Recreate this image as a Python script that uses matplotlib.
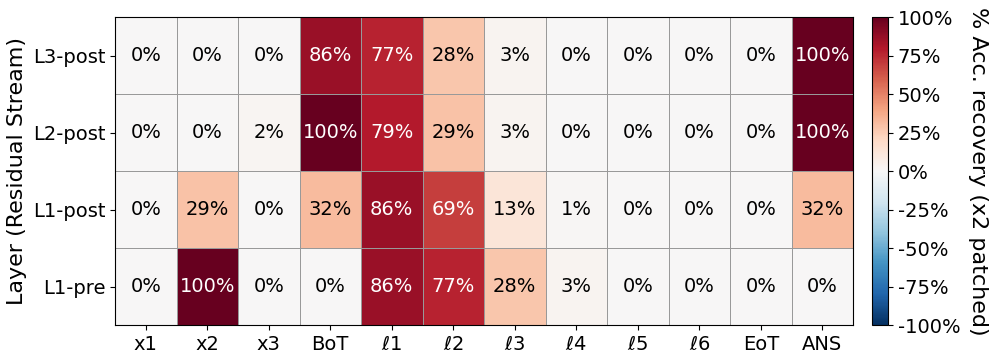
import numpy as np
import matplotlib
matplotlib.use("Agg")
import matplotlib.pyplot as plt
import matplotlib.ticker as tck

cols = ['x1', 'x2', 'x3', 'BoT', r'$\ell$1', r'$\ell$2', r'$\ell$3', r'$\ell$4',
        r'$\ell$5', r'$\ell$6', 'EoT', 'ANS']
rows = ['L3-post', 'L2-post', 'L1-post', 'L1-pre']
vals = np.array([
    [0, 0, 0, 86, 77, 28, 3, 0, 0, 0, 0, 100],
    [0, 0, 2, 100, 79, 29, 3, 0, 0, 0, 0, 100],
    [0, 29, 0, 32, 86, 69, 13, 1, 0, 0, 0, 32],
    [0, 100, 0, 0, 86, 77, 28, 3, 0, 0, 0, 0],
])

fig = plt.figure(figsize=(9.96, 3.64), dpi=100)
ax = fig.add_axes([0.1155, 0.107, 0.741, 0.846])
cax = fig.add_axes([0.8755, 0.107, 0.016, 0.846])

mesh = ax.pcolormesh(vals, cmap='RdBu_r', vmin=-100, vmax=100,
                     edgecolors='#999999', linewidth=0.5)
ax.set_xlim(0, len(cols))
ax.set_ylim(len(rows), 0)
ax.set_xticks(np.arange(len(cols)) + 0.5)
ax.set_xticklabels(cols, fontsize=14)
ax.set_yticks(np.arange(len(rows)) + 0.5)
ax.set_yticklabels(rows, fontsize=14)
ax.set_ylabel('Layer (Residual Stream)', fontsize=16)

for i in range(len(rows)):
    for j in range(len(cols)):
        v = vals[i, j]
        ax.text(j + 0.5, i + 0.5, f'{v}%', ha='center', va='center',
                fontsize=14, color='white' if v > 50 else 'black')

cb = fig.colorbar(mesh, cax=cax)
cb.set_ticks([-100, -75, -50, -25, 0, 25, 50, 75, 100])
cb.ax.yaxis.set_major_formatter(tck.FuncFormatter(lambda x, p: f'{int(x)}%'))
cb.ax.tick_params(labelsize=14)
cb.set_label('% Acc. recovery (x2 patched)', fontsize=16, rotation=270, labelpad=20)

fig.savefig('out.png', dpi=100)
